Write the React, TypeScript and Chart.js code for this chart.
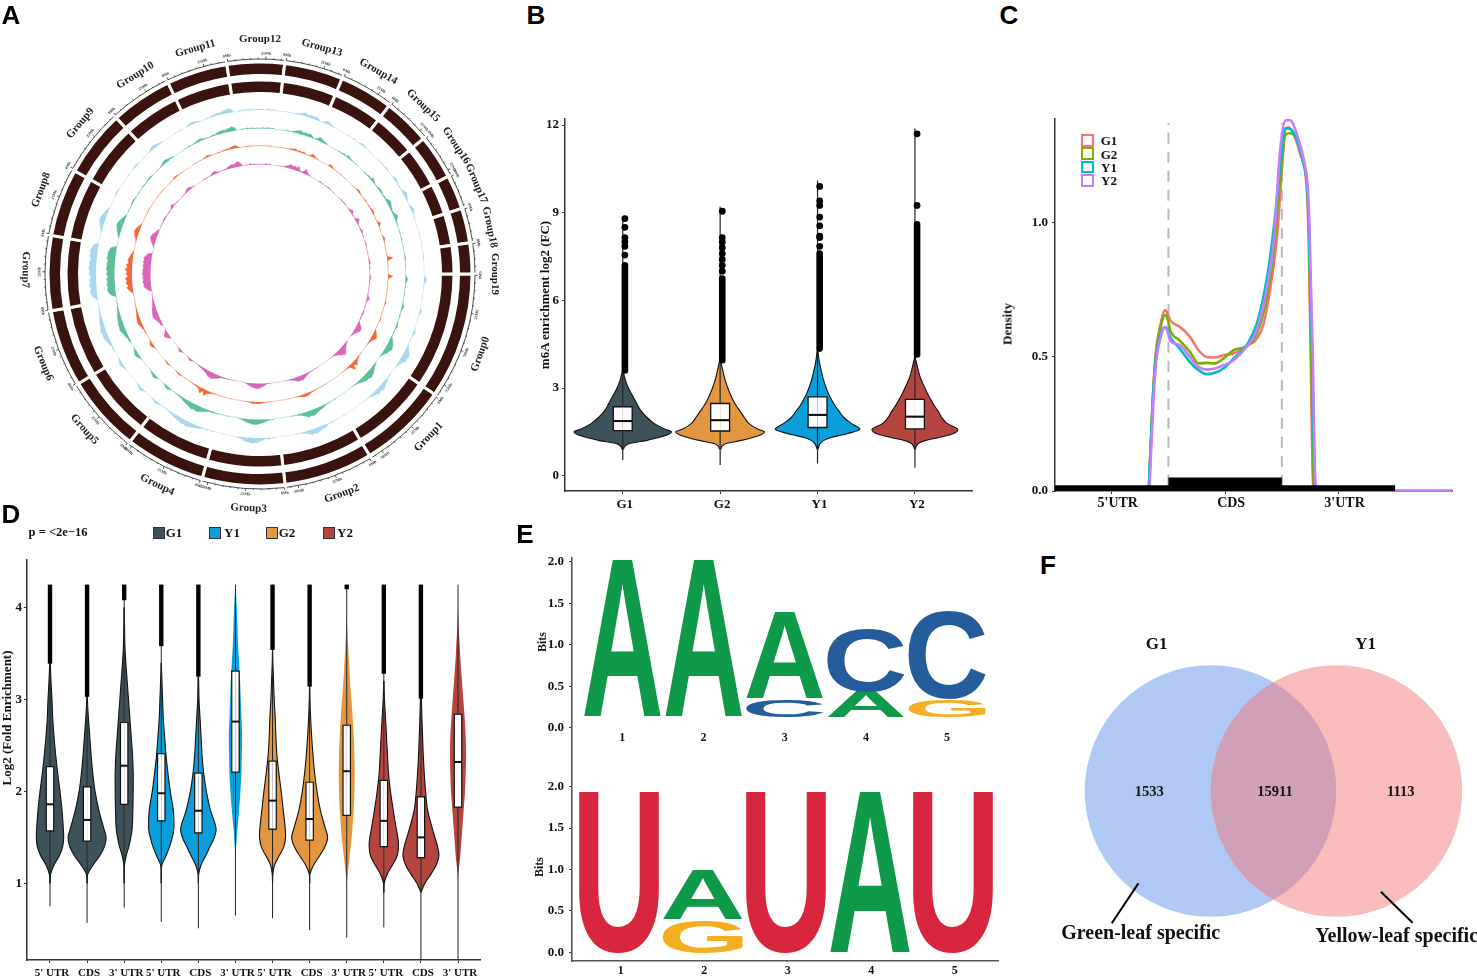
import React, { useEffect, useRef } from 'react';
import Chart from 'chart.js/auto';

/* ---------- shared look ---------- */
const SERIF = '"Liberation Serif"';
const SANS = '"Liberation Sans"';
const COL_G1 = '#3d525a';
const COL_Y1 = '#0a9fdb';
const COL_G2 = '#e39640';
const COL_Y2 = '#b5463f';

/* ---------- panel A: circular genome plot ---------- */
const groupNames = ['Group0','Group1','Group2','Group3','Group4','Group5','Group6','Group7','Group8','Group9','Group10','Group11','Group12','Group13','Group14','Group15','Group16','Group17','Group18','Group19'];
const groupSizes = [34.6,24.3,24.3,22.6,22,21.1,21.1,20.5,18.6,18.3,16.9,16.7,15.7,16.1,14.7,12.9,12.2,9.4,9.5,8.5];
const groupLabelAngles = [110,134,159.6,182.8,206,228.5,247.6,271,291,310,327.9,344,0,15.3,30.3,44.1,56.8,67.3,78.5,90];
const mbPerDegree = 2.44;
const trackBases = [164, 145.5, 128, 109.5];
const trackColors = ['#a9d8ee', '#5cbf9c', '#f4693a', '#d966b8'];
/* each run: first degree (clockwise from the top), then the bar heights of consecutive degrees */
const trackBlue = [
  [353,[1,.4,1.5,.4,1,.4,.8,.4,1,.4,1.5,.4,1.2]],
  [9,[.5,.2,.8,.3,1,1.5,2.5,3.5,2,3,2,3,1.2,.3,1.5,3.5,2.5,1.5,.8]],
  [33,[.8,.2,1,.2,.8,1.5,1.8,1,.3,.6]],
  [46,[.6,.2,1,.3,1.5,.8,.2,.2,1.5,2.5,1.5,.4,1,.3,2.5,4,2.5,1.5,.5,.3,2,3.5,1.5,.3,1]],
  [73,[.5,0,0,.6,0,0,.5,0,0,0,.5,1,0,0,.5]],
  [91,[1,3,1.5,.2,.5,0,0,.6,0,0,0,0,2,1,0,0,.6,0,0,1,2.2,1,0,.6]],
  [116,[1.5,3,5,6.5,5.5,6,4,2,.8]],
  [128,[1,.5,2.5,3,4.5,5.5,4,5,3.5,2.5,1.5,.5,.6]],
  [149,[.4,0,0,.8,.2,1.5,.5,2,3,3.5,4,5.5,4.5,5,3,2,1,.3,.5]],
  [175,[.6,.3,1.5,.8,2.5,3.5,4.5,5,5.5,4.5,4,2.5,1.5,.6]],
  [193,[.4,0,0,0,.6,0,1,.3,1.5,2.5,3,4,4.5,5.5,4.5,5,4,3.5,3,2,1.5,1,.3,.6]],
  [218,[1.5,2.5,1.5,.5]],
  [225,[1.5,3,2,.8]],
  [235,[1,2.5,3.5,2,.8]],
  [243,[1.5,.8,2.5,3,4,5,4.5,5.5,4.5,4,3.5,3,2,1.5,1,.4,.5]],
  [262,[4,6,6.5,5.5,7,6,6.5,5,7,6,7.5,6.5,7,5.5,7,6.5,7.5,6,5]],
  [285,[1,2,3.5,4.5,5.5,5,4,3,2]],
  [296,[.5,0,0,1,1.5,1,0,0,.5,0,0,.8,0,0,1,1.5,1]],
  [315,[.5,0,0,1,2.5,3.5,2.5,1.5,1]],
  [329,[.5,0,1,0,0,1.5,2,2.5,1.5,1,0,0,1,.4,1.5,2,2.5,2,3,3.5,4.5,3]],
];
const trackGreen = [
  [353,[.8,.3,1.2,.3,1,.3,.8,.3,1,.3,1.2,.4,1]],
  [9,[.4,.2,1,.3,1.2,2,3,3.5,2.5,3,2.5,3.5,1.5,.4,2,4,3,2,1]],
  [33,[1,.4,1.5,.8,2.5,1.2,.8,.5,.4,.5]],
  [46,[.8,.4,1.5,1,3,1.5,.6,.4,1.5,2,1.5,.6,1.5,1,3,4,3,2,1.5,1,2.5,4,2.5,1,1]],
  [73,[.6,.3,.2,.8,.2,.2,.6,.2,.2,.4,.8,1.2,.4,.2,.6]],
  [91,[1,2.5,1.5,.4,.6,.2,.3,.8,.2,.2,.4,1,2.5,1,.4,.3,1,.3,.5,1.2,2,1,.5,1]],
  [116,[2,3.5,5,6,6.5,5,4,2,.8]],
  [128,[1.5,2,3.5,5,6,6.5,5,5.5,4,3,1.5,.8,.5]],
  [149,[.6,.3,.4,1,.6,2,2.5,3,4,5,6,5,6,4,3,1.5,1,.6,.4]],
  [175,[.8,.6,1.5,2.5,3.5,4,5,5,5,4,3.5,2.5,1.5,.6]],
  [193,[.5,.2,.3,.5,.8,.6,1.5,1,2,3,4,5,6,5,6,5,4,3.5,3,2,1.5,1,.6,.5]],
  [218,[1.5,2.5,2,.6]],
  [225,[2,3,2,1]],
  [235,[1.5,3,3.5,2.5,1]],
  [243,[2,1.5,3,3.5,4.5,5.5,5,5,4.5,4,3.5,3,2,1.5,1,.5,.4]],
  [262,[5,7,8,7,8,7,8,6.5,8,7,8.5,7.5,8,7,8.5,7.5,8,7,6]],
  [285,[1.5,2.5,4,5,6,5.5,4.5,3,2]],
  [296,[.6,.3,.3,1,1.5,1,.3,.3,.6,.3,.3,1,.5,.5,1,1.5,1]],
  [315,[.6,.3,.6,1.5,2.5,3,2,1.5,1]],
  [329,[.6,.4,1,.5,.6,1.5,2,2.5,1.5,1,.5,.6,1.2,1,2,2.5,3,2.5,3,3.5,4.5,3]],
];
const trackOrange = [
  [353,[.4,.2,.6,.2,.4,.2,.3,.2,.5,.2,.5,.2,.4]],
  [9,[.2,.2,.3,.2,.5,1,1.5,2,1,1.5,1,1.5,.5,.2,1,3,2,.8,.3]],
  [33,[2.5,1.5,.5,.3,.2,.2,.3,.2,.2,.3]],
  [46,[.3,.2,.5,1,2,1,.3,.2,.5,1,.5,.2,.8,.4,1.5,2,1,.3,.2,.2,1,3,1,.2,.3]],
  [73,[1,2,.8,.3,.2,.2,.3,.2,.2,.2,6,.8,.2,.2,.3]],
  [91,[5,.6,.3,.2,.3,.2,.2,.3,.2,.2,.2,.3,1.5,.5,.2,.2,.3,.2,.2,.5,1,.3,.2,.3]],
  [116,[1,2.5,4,5,3.5,2,1,.5,.2]],
  [128,[.5,.3,1,1.5,3,5,2.5,7,2,1,.5,.3,.2]],
  [149,[.2,.2,.2,.4,.2,.6,.8,1,1.5,2.5,3,2.5,2,1,.6,.3,.2,.2,.2]],
  [175,[.3,.2,.5,.8,1.2,1.5,2,1.5,2,1.2,.8,.4,.2,.2]],
  [193,[.2,.2,.2,.2,.3,.2,.5,.3,.8,1,2,3,6,2,5.5,2.5,1.5,1,.8,.5,.3,.2,.2,.2]],
  [218,[.8,1.5,.8,.2]],
  [225,[.6,1.5,.8,.2]],
  [235,[.8,2.5,3,1.5,.4]],
  [243,[1,.5,1.5,2,3,4,3.5,3,2.5,2,1.5,1,.6,.4,.2,.2,.2]],
  [262,[2,4,6,4,6.5,5,7,4,6,5,7,4.5,6,3.5,5,4,3,2,1]],
  [285,[.6,1.5,3,4,5,4,3,1.5,.6]],
  [296,[.2,.2,.2,.4,.6,.3,.2,.2,.2,.2,.2,.3,.2,.2,.3,.5,.3]],
  [315,[.2,.2,.3,.8,1.5,1,.5,.3,.2]],
  [329,[.2,.2,.4,.2,.2,.5,1,2,1,.4,.2,.2,.5,.3,.8,1,1.5,1,2,2.5,3,1.5]],
];
const trackPink = [
  [353,[.8,.3,1.2,.4,1,.3,.8,.3,.8,.3,1.2,.4,1]],
  [9,[.3,.2,.5,.4,1,2,3,4.5,3,4,3,5,2,.5,2,5,3,1.5,.6]],
  [33,[1,.5,.4,.3,.5,.8,1,.6,.3,.4]],
  [46,[.4,.3,.6,.8,1,.6,.3,.4,1,2,3,1,.6,.4,1.5,4,2.5,1,.5,.4,1,2,1,.4,.8]],
  [73,[.6,1,.6,.3,.2,.2,.6,.2,.2,.6,1,1.5,.6,.3,1]],
  [91,[1.5,1.2,.8,.4,.8,.4,.3,.6,.3,.4,.6,1.5,3,1.5,.6,.4,.8,.4,.5,1,1.5,1,.5,1]],
  [116,[1.5,3,5,6,5.5,4,2.5,1.5,.6]],
  [128,[1,1.5,3,4,6,8,6.5,5,3,2,1,.5,.4]],
  [149,[.4,.3,.3,.8,.4,1.5,2,3,4,5,4,5,3.5,2.5,1.5,1,.6,.3,.3]],
  [175,[.6,.5,1.5,2.5,3.5,4.5,5,5,4.5,4,3,2,1,.4]],
  [193,[.3,.2,.3,.4,.8,.5,1.5,1,2,3,4,5,6,5,5.5,4,3,2.5,2,1.5,1,.6,.4,.3]],
  [218,[1,2,1.5,.4]],
  [225,[1,2.5,1.5,.5]],
  [235,[2,4,5,3,1.2]],
  [243,[2.5,2,3.5,4,5,6,5.5,5,4.5,4,3,2.5,2,1.5,1,.5,.3]],
  [262,[4,6,7.5,7,8,7,8,7,8.5,7.5,8,7,8,7,8,7,8,6,5]],
  [285,[1.5,3,4.5,5.5,6,5.5,4,3,2]],
  [296,[.8,.5,.5,1,1.5,1,.5,.5,.8,.5,.5,2,3,1,.6,.5,.5]],
  [315,[.6,.4,.5,1.5,2.5,3,2,1,.6]],
  [329,[.5,.4,.8,.5,.5,1.5,2.5,3,1.5,.8,.4,.5,1,.8,2,2.5,3.5,3,3.5,4.5,5,3]],
];

/* ---------- panel B: violins ---------- */
const bCategories = ['G1', 'G2', 'Y1', 'Y2'];
const bColors = [COL_G1, COL_G2, COL_Y1, COL_Y2];
const bLevels = [.9,1,1.1,1.2,1.3,1.4,1.5,1.6,1.8,2,2.2,2.4,2.6,2.8,3,3.2,3.4,3.6,3.8,4,4.2,4.4];
const bWidthG1 = [2,6,20,70,105,135,146,125,93,72,56,45,36,26,17,10,5,1,0,0,0,0];
const bWidthG2 = [2,5,18,60,95,122,133,112,85,72,60,48,38,30,23,17,12,8,4,1,0,0];
const bWidthY1 = [1,4,8,18,38,75,108,127,100,78,65,52,42,33,26,20,15,11,7,4,2,0];
const bWidthY2 = [1,4,10,30,70,105,125,128,95,80,70,58,48,38,30,22,15,10,6,2,0,0];
const bQ1 = [1.54, 1.53, 1.65, 1.6];
const bMedian = [1.87, 1.9, 2.08, 2.02];
const bQ3 = [2.36, 2.47, 2.7, 2.61];
const bWhiskerLow = [.54, .37, .42, .27];
const bWhiskerTop = [8.86, 9.2, 10.1, 11.88];
const bDenseLow = [3.6, 3.95, 4.35, 4.15];
const bDenseHigh = [7.2, 6.75, 7.6, 8.6];
const bDotsG1 = [7.55, 7.85, 8.0, 8.15, 8.5, 8.8];
const bDotsG2 = [7.0, 7.2, 7.4, 7.6, 7.8, 8.0, 8.15, 9.05];
const bDotsY1 = [7.85, 8.15, 8.2, 8.55, 8.85, 9.25, 9.4, 9.9];
const bDotsY2 = [9.25, 11.7];

/* ---------- panel C: metagene density ---------- */
const cSegments = ["5'UTR", 'CDS', "3'UTR"];
const cGeneX = [0, 1, 1, 2, 2, 3];
const cGeneY = [.021, .021, .05, .05, .021, .021];
const curveG1 = [[0,0],[.824,0],[.838,.114],[.862,.338],[.888,.512],[.926,.611],[.97,.673],[.994,.66],[1.015,.636],[1.1,.611],[1.19,.574],[1.265,.524],[1.338,.499],[1.41,.497],[1.485,.506],[1.574,.512],[1.69,.539],[1.78,.568],[1.84,.624],[1.9,.76],[1.96,.959],[2,1.195],[2.03,1.344],[2.06,1.354],[2.1,1.332],[2.16,1.257],[2.22,1.12],[2.235,.959],[2.256,.462],[2.27,.09],[2.285,0],[3.5,0]];
const curveG2 = [[0,0],[.824,0],[.838,.114],[.862,.338],[.888,.5],[.926,.6],[.97,.655],[.994,.64],[1.015,.6],[1.1,.56],[1.19,.518],[1.265,.475],[1.338,.477],[1.41,.475],[1.485,.493],[1.574,.524],[1.69,.539],[1.78,.586],[1.87,.723],[1.93,.897],[1.985,1.158],[2.03,1.325],[2.07,1.332],[2.12,1.319],[2.18,1.245],[2.225,1.12],[2.24,.959],[2.26,.462],[2.275,.09],[2.288,0],[3.5,0]];
const curveY1 = [[0,0],[.824,0],[.838,.114],[.862,.338],[.888,.49],[.926,.575],[.97,.61],[.994,.6],[1.015,.574],[1.1,.53],[1.19,.48],[1.265,.45],[1.338,.435],[1.41,.44],[1.485,.456],[1.574,.493],[1.69,.543],[1.78,.624],[1.87,.797],[1.93,.984],[1.985,1.207],[2.03,1.35],[2.06,1.35],[2.12,1.319],[2.19,1.22],[2.225,1.12],[2.24,.959],[2.27,.462],[2.285,.09],[2.305,0],[3.5,0]];
const curveY2 = [[0,0],[.83,0],[.844,.114],[.868,.338],[.894,.49],[.93,.57],[.97,.61],[.994,.59],[1.015,.56],[1.1,.543],[1.19,.499],[1.265,.462],[1.338,.452],[1.41,.456],[1.485,.468],[1.574,.487],[1.69,.537],[1.78,.599],[1.87,.76],[1.93,.934],[1.985,1.27],[2.03,1.379],[2.07,1.381],[2.13,1.332],[2.2,1.22],[2.23,1.12],[2.245,.959],[2.275,.462],[2.29,.09],[2.31,0],[3.5,0]];
const cLegendNames = ['G1', 'G2', 'Y1', 'Y2'];
const cLegendColors = ['#f8766d', '#7cae00', '#00bfc4', '#c77cff'];

/* ---------- panel D: violins by region ---------- */
const dCategories = ["5' UTR", 'CDS', "3' UTR", "5' UTR", 'CDS', "3' UTR", "5' UTR", 'CDS', "3' UTR", "5' UTR", 'CDS', "3' UTR"];
const dColors = [COL_G1, COL_G1, COL_G1, COL_Y1, COL_Y1, COL_Y1, COL_G2, COL_G2, COL_G2, COL_Y2, COL_Y2, COL_Y2];
const dOutlined = [true, true, true, true, true, false, true, true, false, true, true, false];
const dLevels = [.9,1,1.1,1.2,1.3,1.4,1.5,1.6,1.8,2,2.2,2.4,2.6,2.8,3,3.2,3.4,3.6,3.8,4,4.2];
const dWidth1 = [0,0,2,12,28,38,41,40,36,30,23,17,12,8,6,3,1,0,0,0,0];
const dWidth2 = [0,0,2,18,38,52,57,50,35,24,17,12,8,4,1,0,0,0,0,0,0];
const dWidth3 = [0,0,.5,1,6,14,20,24,26,27,27,25,21,17,13,9,5,2,1,0,0];
const dWidth4 = [0,0,.5,2,14,25,33,38,36,27,20,14,10,6,4,2,0,0,0,0,0];
const dWidth5 = [0,0,1,8,22,35,48,53,36,24,16,11,8,5,2,1,0,0,0,0,0];
const dWidth6 = [0,0,0,0,0,2,4,6,11,15,18,19,20,18,16,14,11,8,6,4,1];
const dWidth7 = [0,0,1,6,20,34,39,38,32,26,19,13,10,8,5,3,1,0,0,0,0];
const dWidth8 = [0,0,1,12,30,46,54,47,32,22,15,10,6,3,1,0,0,0,0,0,0];
const dWidth9 = [0,0,3,6,9,12,15,17,21,23,24,23,21,18,14,10,7,4,1,0,0];
const dWidth10 = [0,1,10,26,40,44,42,37,28,20,14,11,8,5,2,0,0,0,0,0,0];
const dWidth11 = [0,12,30,46,54,50,42,34,20,14,10,7,5,3,1.5,0,0,0,0,0,0];
const dWidth12 = [0,0,1,4,7,9,11,13,17,21,23,24,23,20,16,12,8,5,2,0,0];
const dWidths = [dWidth1,dWidth2,dWidth3,dWidth4,dWidth5,dWidth6,dWidth7,dWidth8,dWidth9,dWidth10,dWidth11,dWidth12];
const dQ1 = [1.57,1.46,1.86,1.68,1.55,2.21,1.59,1.47,1.74,1.4,1.28,1.83];
const dMedian = [1.86,1.69,2.28,1.98,1.79,2.76,1.9,1.7,2.22,1.68,1.5,2.32];
const dQ3 = [2.27,2.05,2.75,2.41,2.2,3.31,2.33,2.1,2.72,2.12,1.94,2.84];
const dWhiskerLow = [.75,.57,.735,.58,.51,.65,.62,.49,.41,.52,.17,.17];
const dWhiskerTop = [4.25,4.25,4.25,4.25,4.25,4.25,4.25,4.25,4.25,4.25,4.25,4.25];
const dDenseLow = [3.39,3.03,4.08,3.58,3.25,4.25,3.54,3.14,4.2,3.28,3.01,4.25];

/* ---------- panel E: sequence logos ---------- */
const logoColors = { A: '#0f9a4a', C: '#255d9c', G: '#f5ae22', U: '#d7263d' };
const eTopLowerLetters = ['A', 'A', 'C', 'A', 'G'];
const eTopLowerStart = [.124, .124, .124, .124, .124];
const eTopLowerEnd = [2.028, 2.028, .333, .434, .333];
const eTopUpperLetters = ['', '', 'A', 'C', 'C'];
const eTopUpperStart = [0, 0, .345, .434, .341];
const eTopUpperEnd = [0, 0, 1.378, 1.197, 1.41];
const eBotLowerLetters = ['U', 'G', 'U', 'A', 'U'];
const eBotLowerStart = [-.012, -.012, -.012, -.012, -.012];
const eBotLowerEnd = [1.94, .39, 1.94, 1.94, 1.94];
const eBotUpperLetters = ['', 'A', '', '', ''];
const eBotUpperStart = [0, .398, 0, 0, 0];
const eBotUpperEnd = [0, .982, 0, 0, 0];
const ePositions = [1, 2, 3, 4, 5];
const eBitTicks = [0, .5, 1, 1.5, 2];

/* ---------- panel F: Venn ---------- */
const vennX = [1, 2];
const vennY = [0, 0];
const vennRadius = [125.8, 125.8];
const vennColors = ['rgba(110,155,235,0.55)', 'rgba(241,121,121,0.5)'];
const vennLeaderLeft = [[.427, -.733], [.216, -1.05]];
const vennLeaderRight = [[2.353, -.799], [2.604, -1.045]];

/* ---------- helpers ---------- */
const quiet = { legend: { display: false }, tooltip: { enabled: false } };
const frame = (plot: number[], left: number, bottom: number, top = 10, right = 10) => ({
  left: plot[0] - left,
  top: plot[1] - top,
  width: plot[2] - plot[0] + left + right,
  height: plot[3] - plot[1] + top + bottom,
  padding: { top, right, left: 0, bottom: 0 },
});
const axis = (min: number, max: number, ticks: number[], size: any, tick: any, extra: any = {}) => ({
  type: 'linear', min, max, bounds: 'data',
  afterBuildTicks: (s: any) => { s.ticks = ticks.map((value) => ({ value })); },
  afterFit: (s: any) => {
    if (s.isHorizontal()) s.height = size; else s.width = size;
    s.paddingTop = s.paddingBottom = s.paddingLeft = s.paddingRight = 0;
  },
  ticks: { autoSkip: false, maxRotation: 0, minRotation: 0, color: '#111', ...tick },
  grid: { drawOnChartArea: false, tickLength: 3, color: '#333' },
  border: { color: '#333', width: 1.5 },
  ...extra,
});
const path = (pts: any[], color: string, width: number, order: number, extra: any = {}) => ({
  type: 'line', data: pts, borderColor: color, backgroundColor: color, borderWidth: width,
  pointRadius: 0, fill: false, tension: 0, order, ...extra,
});
const violin = (c: number, levels: number[], widths: number[], unit: number, color: string, outlined: boolean, order: number) => {
  const pts = levels
    .map((y, i) => ({ y, w: widths[i] * unit, keep: widths[i] > 0 || widths[i - 1] > 0 || widths[i + 1] > 0 }))
    .filter((p) => p.keep);
  const style = { fill: { value: c }, tension: .35 };
  return [-1, 1].map((side) =>
    path(pts.map((p) => ({ x: c + side * p.w, y: p.y })), outlined ? '#111' : color, outlined ? 1.1 : 0, order, { ...style, backgroundColor: color }));
};
const box = (c: number, q1: number, med: number, q3: number, hw: number, lineW: number) => [
  ...[-1, 1].map((side) =>
    path([{ x: c, y: q1 }, { x: c + side * hw, y: q1 }, { x: c + side * hw, y: q3 }, { x: c, y: q3 }], '#111', lineW, 1, { fill: { value: c }, backgroundColor: '#fff' })),
  path([{ x: c - hw, y: med }, { x: c + hw, y: med }], '#111', lineW + .8, 0),
];
const expandRuns = (runs: any[]) => {
  const out = new Array(360).fill(0);
  runs.forEach(([start, heights]) => heights.forEach((h: number, i: number) => { out[(start + i) % 360] = h; }));
  return out;
};

/* ---------- configs ---------- */
const configRings = () => {
  const ringColor = '#3a130f';
  const ring = () => ({ data: groupSizes, backgroundColor: ringColor, borderColor: '#fff', borderWidth: 3, weight: 13.5 });
  return {
    type: 'doughnut',
    data: {
      labels: groupNames,
      datasets: [
        ring(),
        { data: groupSizes, backgroundColor: 'rgba(0,0,0,0)', borderWidth: 0, weight: 4.5 },
        ring(),
      ],
    },
    options: {
      responsive: false, animation: false, rotation: 90, circumference: 360, radius: 212, cutout: '85.14%',
      plugins: quiet,
    },
    plugins: [{
      id: 'groupAxis',
      afterDatasetsDraw(chart: any) {
        const { ctx } = chart;
        chart.getDatasetMeta(0).data.forEach((arc: any, i: number) => {
          const { x, y, startAngle, endAngle } = arc.getProps(['x', 'y', 'startAngle', 'endAngle'], true);
          const gap = .006;
          ctx.save();
          ctx.strokeStyle = '#222';
          ctx.lineWidth = .8;
          ctx.beginPath();
          ctx.arc(x, y, 215, startAngle + gap, endAngle - gap);
          ctx.stroke();
          const spanDeg = (endAngle - startAngle) * 180 / Math.PI - .7;
          const mbTotal = spanDeg * mbPerDegree;
          ctx.fillStyle = '#333';
          ctx.font = `bold 4px ${SERIF}`;
          ctx.textAlign = 'center';
          ctx.textBaseline = 'middle';
          for (let mb = 0; mb <= mbTotal; mb += 5) {
            const a = startAngle + gap + (mb / mbPerDegree) * Math.PI / 180;
            const major = mb % 25 === 0;
            ctx.beginPath();
            ctx.moveTo(x + 215 * Math.cos(a), y + 215 * Math.sin(a));
            ctx.lineTo(x + (major ? 217.5 : 216.2) * Math.cos(a), y + (major ? 217.5 : 216.2) * Math.sin(a));
            ctx.stroke();
            if (major) {
              ctx.save();
              ctx.translate(x + 220.5 * Math.cos(a), y + 220.5 * Math.sin(a));
              const th = a + Math.PI / 2;
              ctx.rotate(th > Math.PI / 2 && th < 3 * Math.PI / 2 - .15 ? th - Math.PI : th);
              ctx.fillText(`${mb}Mb`, 0, 0);
              ctx.restore();
            }
          }
          const deg = groupLabelAngles[i];
          const theta = deg * Math.PI / 180;
          const rot = deg < 90.5 || deg >= 280 ? theta : theta - Math.PI;
          ctx.translate(x + 234.5 * Math.sin(theta), y - 234.5 * Math.cos(theta));
          ctx.rotate(rot);
          ctx.fillStyle = '#222';
          ctx.font = `bold 11px ${SERIF}`;
          ctx.fillText(groupNames[i], 0, 0);
          ctx.restore();
        });
      },
    }],
  };
};

const configTracks = () => {
  const tracks = [trackBlue, trackGreen, trackOrange, trackPink].map(expandRuns);
  return {
    type: 'radar',
    data: {
      labels: tracks[0].map((_, i) => String(i)),
      datasets: tracks.map((t, k) => ({
        data: t.map((h: number) => trackBases[k] + h),
        borderColor: trackColors[k], backgroundColor: trackColors[k], borderWidth: .4,
        pointRadius: 0, tension: 0, fill: { value: trackBases[k] },
      })),
    },
    options: {
      responsive: false, animation: false, plugins: quiet,
      scales: { r: { display: false, min: 0, max: 180 } },
    },
  };
};

const configB = (f: any) => {
  const unit = 1 / 292;
  const widths = [bWidthG1, bWidthG2, bWidthY1, bWidthY2];
  const dots = [bDotsG1, bDotsG2, bDotsY1, bDotsY2];
  const off = .022;
  const datasets: any[] = [];
  bCategories.forEach((_, i) => {
    const c = i + 1;
    datasets.push(...violin(c, bLevels, widths[i], unit, bColors[i], true, 4));
    datasets.push(path([{ x: c, y: bWhiskerLow[i] }, { x: c, y: bWhiskerTop[i] }], '#222', 1.2, 3));
    datasets.push(path([{ x: c + off, y: bDenseLow[i] }, { x: c + off, y: bDenseHigh[i] }], '#000', 6.6, 2, { borderCapStyle: 'round' }));
    datasets.push({ type: 'line', showLine: false, data: dots[i].map((y) => ({ x: c + off, y })), pointRadius: 3.4, pointBackgroundColor: '#000', pointBorderWidth: 0, order: 2 });
    datasets.push(...box(c, bQ1[i], bMedian[i], bQ3[i], .097, 1.3));
  });
  return {
    type: 'line',
    data: { datasets },
    options: {
      indexAxis: 'y', responsive: false, animation: false, layout: { padding: f.padding }, plugins: quiet,
      scales: {
        x: axis(.407, 4.586, [1, 2, 3, 4], 30, { font: { family: SERIF, weight: 'bold', size: 13 }, padding: 3, labelOffset: 2, callback: (v: number) => bCategories[v - 1] }),
        y: axis(-.524, 12.207, [0, 3, 6, 9, 12], 30, { font: { family: SERIF, weight: 'bold', size: 13 }, padding: 3 }),
      },
    },
  };
};

const configC = (f: any) => {
  const pts = (c: number[][]) => c.map(([x, y]) => ({ x, y }));
  const curves = [curveG1, curveG2, curveY1, curveY2];
  const smooth = { cubicInterpolationMode: 'monotone' };
  return {
    type: 'line',
    data: {
      datasets: [
        path(cGeneX.map((x, i) => ({ x, y: cGeneY[i] })), '#000', 0, 1, { fill: 'origin', backgroundColor: '#000' }),
        ...curves.map((c, i) => path(pts(c), cLegendColors[i], 2.6, 5 - i, smooth)),
        ...[1, 2].map((x) => path([{ x, y: .02 }, { x, y: 1.37 }], '#b8b8b8', 2, 8, { borderDash: [11, 8] })),
      ],
    },
    options: {
      responsive: false, animation: false, layout: { padding: f.padding }, plugins: quiet,
      scales: {
        x: axis(0, 3.5, [.5, 1.5, 2.5], 30, { font: { family: SERIF, weight: 'bold', size: 14 }, padding: 1, labelOffset: 6, callback: (v: number) => cSegments[v - .5] }),
        y: axis(0, 1.385, [0, .5, 1], 56, { font: { family: SERIF, weight: 'bold', size: 13 }, padding: 4, callback: (v: number) => v.toFixed(1) }),
      },
    },
  };
};

const configD = (f: any) => {
  const datasets: any[] = [];
  dCategories.forEach((_, i) => {
    const c = i + 1;
    datasets.push(...violin(c, dLevels, dWidths[i], 1 / 111.3, dColors[i], dOutlined[i], 4));
    datasets.push(path([{ x: c, y: dWhiskerLow[i] }, { x: c, y: dWhiskerTop[i] }], '#222', 1, 3));
    datasets.push(path([{ x: c, y: dDenseLow[i] }, { x: c, y: dWhiskerTop[i] }], '#000', 4.4, 2));
    datasets.push(...box(c, dQ1[i], dMedian[i], dQ3[i], .1, 1.2));
  });
  return {
    type: 'line',
    data: { datasets },
    options: {
      indexAxis: 'y', responsive: false, animation: false, layout: { padding: f.padding }, plugins: quiet,
      scales: {
        x: axis(.38, 12.593, [1,2,3,4,5,6,7,8,9,10,11,12], 17, { font: { family: SERIF, weight: 'bold', size: 11 }, padding: 4, labelOffset: 2, callback: (v: number) => dCategories[v - 1] }),
        y: axis(.166, 4.518, [1, 2, 3, 4], 27, { font: { family: SERIF, weight: 'bold', size: 13 }, padding: 2 }),
      },
    },
  };
};

const glyphs = {
  id: 'logoGlyphs',
  afterDatasetsDraw(chart: any) {
    const { ctx } = chart;
    chart.data.datasets.forEach((ds: any, k: number) => {
      chart.getDatasetMeta(k).data.forEach((bar: any, i: number) => {
        const letter = ds.letters[i];
        if (!letter) return;
        const { x, y, base, width } = bar.getProps(['x', 'y', 'base', 'width'], true);
        const top = Math.min(y, base);
        const h = Math.abs(y - base);
        ctx.save();
        ctx.font = `bold 200px ${SANS}`;
        ctx.textAlign = 'left';
        ctx.textBaseline = 'alphabetic';
        const m = ctx.measureText(letter);
        const gw = m.actualBoundingBoxRight + m.actualBoundingBoxLeft;
        const gh = m.actualBoundingBoxAscent + m.actualBoundingBoxDescent;
        ctx.translate(x - width / 2, top);
        ctx.scale(width / gw, h / gh);
        ctx.fillStyle = logoColors[letter];
        ctx.fillText(letter, m.actualBoundingBoxLeft, m.actualBoundingBoxAscent);
        ctx.restore();
      });
    });
  },
};
const logoLayer = (letters: string[], start: number[], end: number[], pct: number) => ({
  letters,
  data: ePositions.map((x, i) => ({ x, y: [start[i], end[i]] })),
  backgroundColor: 'rgba(0,0,0,0)', borderWidth: 0, grouped: false,
  barPercentage: pct, categoryPercentage: 1,
});
const logoTick = (s: number) => ({ font: { family: SERIF, weight: 'bold', size: s }, padding: 5, callback: (v: number) => v.toFixed(1) });
const eBorder = { border: { color: '#555', width: 1.6 } };

const configE1 = (f: any) => ({
  type: 'bar',
  data: { datasets: [
    logoLayer(eTopLowerLetters, eTopLowerStart, eTopLowerEnd, .95),
    logoLayer(eTopUpperLetters, eTopUpperStart, eTopUpperEnd, .95),
  ] },
  options: {
    responsive: false, animation: false, layout: { padding: f.padding }, plugins: quiet,
    scales: {
      x: axis(.381, 5.627, ePositions, 0, { font: { family: SERIF, weight: 'bold', size: 12 }, padding: 5, callback: (v: number) => String(v) },
        { offset: false, position: { y: .03 }, border: { display: false }, grid: { display: false, drawTicks: false, offset: false } }),
      y: axis(-.425, 2.045, eBitTicks, 40, logoTick(13), eBorder),
    },
  },
  plugins: [glyphs],
});
const configE2 = (f: any) => ({
  type: 'bar',
  data: { datasets: [
    logoLayer(eBotLowerLetters, eBotLowerStart, eBotLowerEnd, .96),
    logoLayer(eBotUpperLetters, eBotUpperStart, eBotUpperEnd, .96),
  ] },
  options: {
    responsive: false, animation: false, layout: { padding: f.padding }, plugins: quiet,
    scales: {
      x: axis(.4335, 5.535, ePositions, 16, { font: { family: SERIF, weight: 'bold', size: 12 }, padding: 3, labelOffset: 1.5, callback: (v: number) => String(v) },
        { ...eBorder, offset: false, grid: { display: false, drawTicks: false, offset: false } }),
      y: axis(-.105, 2.286, eBitTicks, 40, logoTick(13), eBorder),
    },
  },
  plugins: [glyphs],
});

const configF = () => ({
  type: 'bubble',
  data: { datasets: [
    { data: [{ x: vennX[0], y: vennY[0], r: vennRadius[0] }], backgroundColor: vennColors[0], borderWidth: 0, order: 3, clip: false },
    { data: [{ x: vennX[1], y: vennY[1], r: vennRadius[1] }], backgroundColor: vennColors[1], borderWidth: 0, order: 2, clip: false },
    path(vennLeaderLeft.map(([x, y]) => ({ x, y })), '#000', 2, 1, { clip: false }),
    path(vennLeaderRight.map(([x, y]) => ({ x, y })), '#000', 2, 1, { clip: false }),
  ] },
  options: {
    responsive: false, animation: false, plugins: quiet,
    scales: {
      x: { type: 'linear', display: false, min: .645, max: 2.117 },
      y: { type: 'linear', display: false, min: -.2635, max: .2 },
    },
  },
});

/* ---------- components ---------- */
function Canvas({ left, top, width, height, config }: any) {
  const ref = useRef<HTMLCanvasElement>(null);
  useEffect(() => {
    const chart = new Chart(ref.current as any, config());
    return () => chart.destroy();
  }, []);
  return <canvas ref={ref} width={width} height={height} style={{ position: 'absolute', left, top, width, height }} />;
}
function Text({ x, y, size = 13, rot = 0, family = SERIF, color = '#111', children }: any) {
  return (
    <div style={{ position: 'absolute', left: x, top: y, transform: `translate(-50%,-50%) rotate(${rot}deg)`, whiteSpace: 'nowrap', fontFamily: family, fontWeight: 'bold', fontSize: size, color, lineHeight: 1 }}>
      {children}
    </div>
  );
}
const Swatch = ({ x, y, w, h, fill, stroke, sw }: any) => (
  <div style={{ position: 'absolute', left: x, top: y, width: w, height: h, boxSizing: 'border-box', background: fill, border: `${sw}px solid ${stroke}` }} />
);

const plotB = [565, 119, 972, 491];
const plotC = [1055, 119, 1452, 491];
const plotD = [27, 560, 480, 960];
const plotE1 = [572, 558, 998, 763];
const plotE2 = [572, 763, 998, 961];

export default function App() {
  const fB = frame(plotB, 30, 30);
  const fC = frame(plotC, 56, 30);
  const fD = frame(plotD, 27, 17, 10, 10);
  const fE1 = frame(plotE1, 40, 0, 10, 10);
  const fE2 = frame(plotE2, 40, 16, 0, 10);
  const legendD = [[153, 166, 'G1', COL_G1], [209, 224, 'Y1', COL_Y1], [266, 279, 'G2', COL_G2], [323, 337, 'Y2', COL_Y2]];
  return (
    <div style={{ position: 'absolute', left: 0, top: 0, width: 1477, height: 977, background: '#fff', overflow: 'hidden' }}>
      <Canvas left={79.5} top={93.7} width={360} height={360} config={configTracks} />
      <Canvas left={9.5} top={23.7} width={500} height={500} config={configRings} />
      <Canvas {...fB} config={() => configB(fB)} />
      <Canvas {...fC} config={() => configC(fC)} />
      <Canvas {...fD} config={() => configD(fD)} />
      <Canvas {...fE1} config={() => configE1(fE1)} />
      <Canvas {...fE2} config={() => configE2(fE2)} />
      <Canvas left={1040} top={640} width={437} height={310} config={configF} />

      <Text x={11} y={15} size={26} family={SANS} color="#000">A</Text>
      <Text x={536} y={15} size={26} family={SANS} color="#000">B</Text>
      <Text x={1009} y={15} size={26} family={SANS} color="#000">C</Text>
      <Text x={11} y={514} size={26} family={SANS} color="#000">D</Text>
      <Text x={525} y={534} size={26} family={SANS} color="#000">E</Text>
      <Text x={1048} y={565} size={26} family={SANS} color="#000">F</Text>

      <Text x={544} y={295} rot={-90}>m6A enrichment log2 (FC)</Text>
      <Text x={1007} y={324} rot={-90}>Density</Text>
      <Text x={6} y={718} rot={-90}>Log2 (Fold Enrichment)</Text>
      <Text x={542} y={642} rot={-90} size={12}>Bits</Text>
      <Text x={539} y={867} rot={-90} size={12}>Bits</Text>

      <Text x={58} y={532} size={12.5}>p = &lt;2e−16</Text>
      {legendD.map(([sx, tx, name, col]: any) => (
        <React.Fragment key={name}>
          <Swatch x={sx} y={527} w={12} h={12} fill={col} stroke="#333" sw={1} />
          <Text x={tx + 8} y={532}>{name}</Text>
        </React.Fragment>
      ))}

      {cLegendNames.map((name, i) => (
        <React.Fragment key={name}>
          <Swatch x={1081} y={134 + [0, 13.3, 26.6, 40][i]} w={13} h={12.5} fill="#fff" stroke={cLegendColors[i]} sw={2} />
          <Text x={1109} y={140 + [0, 14, 27, 40][i]}>{name}</Text>
        </React.Fragment>
      ))}

      <Text x={1156.7} y={643} size={17}>G1</Text>
      <Text x={1365.7} y={643} size={17}>Y1</Text>
      <Text x={1149.3} y={790.7} size={14.5}>1533</Text>
      <Text x={1275} y={790.7} size={14.5}>15911</Text>
      <Text x={1400.7} y={790.7} size={14.5}>1113</Text>
      <Text x={1140.7} y={931.7} size={20}>Green-leaf specific</Text>
      <Text x={1396.7} y={935} size={20}>Yellow-leaf specific</Text>
    </div>
  );
}
